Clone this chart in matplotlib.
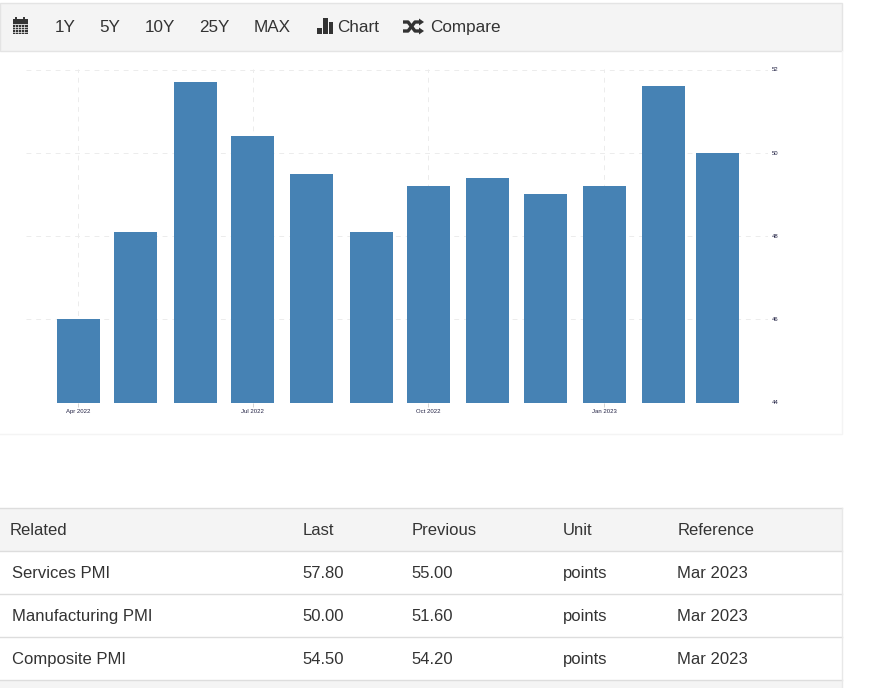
import datetime as dt
import matplotlib
matplotlib.use("Agg")
import matplotlib.pyplot as plt
import matplotlib.dates as mdates
from matplotlib.patches import Rectangle

months = ["2022-04-01", "2022-05-01", "2022-06-01", "2022-07-01", "2022-08-01", "2022-09-01",
          "2022-10-01", "2022-11-01", "2022-12-01", "2023-01-01", "2023-02-01", "2023-03-01"]
values = [46.0, 48.1, 51.7, 50.4, 49.5, 48.1, 49.2, 49.4, 49.0, 49.2, 51.6, 50.0]
x_ticks = ["2022-04-01", "2022-07-01", "2022-10-01", "2023-01-01"]
y_ticks = [44, 46, 48, 50, 52]
toolbar_ranges = ["1Y", "5Y", "10Y", "25Y", "MAX"]
table_header = ["Related", "Last", "Previous", "Unit", "Reference"]
table_names = ["Services PMI", "Manufacturing PMI", "Composite PMI"]
table_last = ["57.80", "50.00", "54.50"]
table_previous = ["55.00", "51.60", "54.20"]
table_unit = ["points", "points", "points"]
table_reference = ["Mar 2023", "Mar 2023", "Mar 2023"]

W, H = 873, 688
plt.rcParams["font.family"] = ["Liberation Sans", "DejaVu Sans"]
TEXT = "#333333"
BAR = "#4682b4"
GRID = "#ececec"

fig = plt.figure(figsize=(W / 100, H / 100), dpi=100, facecolor="white")

# page layer in pixel coordinates
bg = fig.add_axes([0, 0, 1, 1])
bg.set_xlim(0, W)
bg.set_ylim(H, 0)
bg.axis("off")

bg.plot([842, 842, 0], [51, 434, 434], color="#f4f4f4", lw=1)
bg.add_patch(Rectangle((0, 3), 842, 48, fc="#f4f4f4", ec="#e4e4e4", lw=1))

# calendar icon
bg.add_patch(Rectangle((12.5, 19), 15, 15, fc="#333333", ec="none"))
for gx in (15, 18, 21, 24):
    bg.plot([gx, gx], [24.5, 33], color="#f4f4f4", lw=0.5)
for gy in (26.5, 29, 31.5):
    bg.plot([13, 27], [gy, gy], color="#f4f4f4", lw=0.5)
bg.plot([13, 27], [23.7, 23.7], color="#f4f4f4", lw=0.6)
for gx in (16, 24):
    bg.plot([gx, gx], [17.5, 20], color="#333333", lw=1.4)

BASE = 32.2
for label, px in zip(toolbar_ranges, [65, 110, 160, 214, 272.5]):
    bg.text(px, BASE, label, fontsize=12.3, color=TEXT, ha="center", va="baseline")

# bar-chart icon
for bx, top_y in zip((317, 323, 328.5), (28, 18, 22)):
    bg.add_patch(Rectangle((bx, top_y), 4.5, 34 - top_y, fc="#333333", ec="none"))
bg.text(337.5, BASE, "Chart", fontsize=12.3, color=TEXT, ha="left", va="baseline")

# shuffle icon
bg.plot([403, 408, 415, 420], [31, 31, 22, 22], color="#333333", lw=2.4, solid_capstyle="butt")
bg.plot([403, 408, 415, 420], [22, 22, 31, 31], color="#333333", lw=2.4, solid_capstyle="butt")
bg.fill([419, 424, 419], [18.5, 22, 25.5], color="#333333", lw=0)
bg.fill([419, 424, 419], [27.5, 31, 34.5], color="#333333", lw=0)
bg.text(430, BASE, "Compare", fontsize=12.3, color=TEXT, ha="left", va="baseline")

# chart
left, right, top, bottom = 26, 768, 69.5, 402.5
ax = fig.add_axes([left / W, 1 - bottom / H, (right - left) / W, (bottom - top) / H])
ax.patch.set_alpha(0)
dates = [dt.date.fromisoformat(m) for m in months]
ax.bar(dates, values, width=22.5, color=BAR, edgecolor="none", zorder=3)
start = mdates.date2num(dates[0])
ax.set_xlim(start - 27.45, start + 360.55)
ax.set_ylim(min(y_ticks), max(y_ticks))
ax.xaxis_date()
ax.set_xticks([dt.date.fromisoformat(t) for t in x_ticks])
ax.xaxis.set_major_formatter(mdates.DateFormatter("%b %Y"))
ax.set_yticks(y_ticks)
ax.yaxis.tick_right()
ax.grid(True, color=GRID, lw=0.7, ls=(0, (5, 5)), zorder=0)
for s in ax.spines.values():
    s.set_visible(False)
ax.tick_params(axis="x", length=3, width=0.6, color="#cccccc", labelsize=4.3, labelcolor="#222244", pad=1.5)
ax.tick_params(axis="y", length=0, labelsize=4.3, labelcolor="#222244", pad=3)

# table
bg.add_patch(Rectangle((0, 508), 842, 43, fc="#f4f4f4", ec="none"))
bg.add_patch(Rectangle((0, 680), 842, 8, fc="#f4f4f4", ec="none"))
for ly in (508, 551, 594, 637, 680):
    bg.plot([0, 842], [ly, ly], color="#dddddd", lw=1)
bg.plot([842, 842], [508, 688], color="#e8e8e8", lw=1)

col_x = [10, 302.6, 411.6, 563, 677.2]
for label, px in zip(table_header, col_x):
    bg.text(px, 535, label, fontsize=12, color=TEXT, ha="left", va="baseline")
rows = zip(table_names, table_last, table_previous, table_unit, table_reference)
for ry, row in zip((578, 621, 664), rows):
    for i, (cell, px) in enumerate(zip(row, col_x)):
        bg.text(px + (2 if i == 0 else 0), ry, cell, fontsize=12, color=TEXT, ha="left", va="baseline")

fig.savefig("out.png", dpi=100, facecolor="white")
